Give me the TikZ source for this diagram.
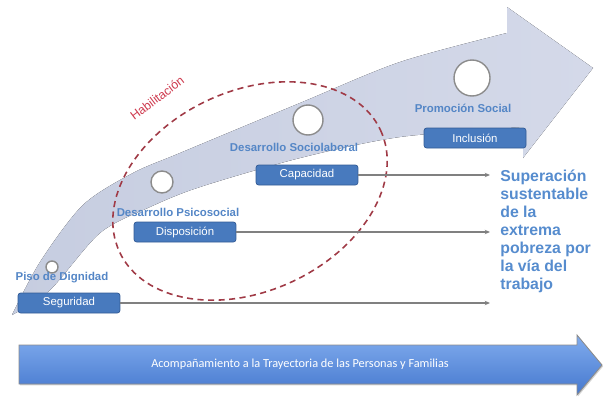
\documentclass[tikz,border=0pt]{standalone}
\usepackage{fontspec}
\setmainfont{Liberation Sans}
\newfontfamily\carlito{Carlito}
\usepackage{tikz}
\usetikzlibrary{arrows.meta}
\usetikzlibrary{shadows}
\usepackage{xcolor}
\definecolor{bandleft}{RGB}{198,205,224}
\definecolor{bandright}{RGB}{212,217,233}
\definecolor{labelblue}{RGB}{84,134,198}
\definecolor{goalblue}{RGB}{86,140,206}
\definecolor{tagblue}{RGB}{72,122,190}
\definecolor{tagedge}{RGB}{52,92,150}
\definecolor{habred}{RGB}{206,58,78}
\definecolor{dashred}{RGB}{160,58,70}
\definecolor{tracktop}{RGB}{128,172,238}
\definecolor{trackbottom}{RGB}{70,120,206}
\tikzset{
  every node/.style={font=\rmfamily},
  every label/.style={font=\rmfamily}
}

\begin{document}
\begin{tikzpicture}[x=0.02cm,y=-0.02cm]
  % Define styles for stages and tags
  \tikzset{
    stage/.style={
      draw=black!45,
      circle,
      fill=white,
      line width=0.8pt,
      inner sep=0pt
    },
    stagelabel/.style={
      text=labelblue,
      inner sep=0pt,
      font=\bfseries\fontsize{6.5}{7}\selectfont
    },
    tag/.style={
      draw=tagedge,
      fill=tagblue,
      rounded corners=1.5pt,
      text=white,
      minimum width=2.04cm,
      minimum height=0.4cm,
      inner sep=0pt,
      font=\fontsize{6.5}{7}\selectfont
    },
    link/.style={
      draw=black!50,
      line width=0.7pt,
      -{Stealth[length=3pt, width=2.5pt]}
    }
  }
  \useasboundingbox (0,0) rectangle (604,399);

  % Curved band arrow
  \fill[left color=bandleft, right color=bandright]
    plot[smooth] coordinates {(12,315) (40,262) (83,205) (133,173) (180,153) (300,103) (400,62) (507,33)}
    -- (507,7) -- (593,68) -- (523,158)
    -- plot[smooth] coordinates {(523,127) (400,137) (300,158) (200,187) (150,207) (100,233) (50,290) (12,315)}
    -- cycle;

  % Habilitacion ring
  \draw[dashred, line width=0.9pt, dash pattern=on 3.5pt off 2.5pt, rotate around={25:(250,191)}]
    (250,191) ellipse [x radius=144, y radius=100];
  \node[rotate=37, text=habred, inner sep=0pt, font=\fontsize{7}{8}\selectfont] (hab) at (157,98) {Habilitación};

  % Stages along the band
  \node[stage, minimum size=0.24cm] (c1) at (52,267) {};
  \node[stage, minimum size=0.44cm] (c2) at (162,182) {};
  \node[stage, minimum size=0.6cm] (c3) at (308,120) {};
  \node[stage, minimum size=0.72cm] (c4) at (472,78) {};

  \node[stagelabel] (l1) at (62,278) {Piso de Dignidad};
  \node[stagelabel] (l2) at (178,212) {Desarrollo Psicosocial};
  \node[stagelabel] (l3) at (294,147) {Desarrollo Sociolaboral};
  \node[stagelabel] (l4) at (463,108) {Promoción Social};

  \node[tag] (b1) at (69,303) {Seguridad};
  \node[tag] (b2) at (185,232) {Disposición};
  \node[tag] (b3) at (307,175) {Capacidad};
  \node[tag] (b4) at (475,138) {Inclusión};

  % Goal text
  \node[anchor=north west, align=left, inner sep=0pt, text=goalblue,
        font=\bfseries\fontsize{9}{10.2}\selectfont] (goal) at (500,170)
    {Superación\\sustentable\\de la\\extrema\\pobreza por\\la vía del\\trabajo};

  % Lines to the goal
  \coordinate (e1) at (490,303);
  \coordinate (e2) at (490,232);
  \coordinate (e3) at (490,175);
  \draw[link] (b1) -- (e1);
  \draw[link] (b2) -- (e2);
  \draw[link] (b3) -- (e3);

  % Bottom arrow
  \path[draw=black!45, line width=0.5pt, top color=tracktop, bottom color=trackbottom,
        drop shadow={opacity=0.35, shadow xshift=0.6pt, shadow yshift=-0.8pt}]
    (19,345) -- (577,345) -- (577,335) -- (602,365) -- (577,395) -- (577,384) -- (19,384) -- cycle;
  \node[text=white, font=\carlito\fontsize{7}{8}\selectfont] (track) at (300,364)
    {Acompañamiento a la Trayectoria de las Personas y Familias};
\end{tikzpicture}
\end{document}
